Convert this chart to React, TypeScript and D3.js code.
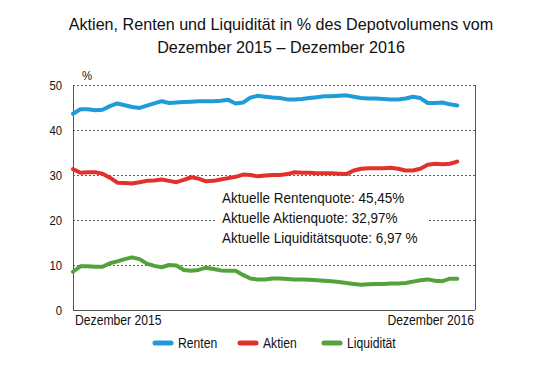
import React, { useRef, useEffect } from "react";
import * as d3 from "d3";

// weekly values, Dezember 2015 – Dezember 2016 (in % des Depotvolumens)
const renten = [
  43.6, 44.6, 44.6, 44.4, 44.5, 45.3, 45.9, 45.5, 45.1, 44.9, 45.4, 45.9, 46.4,
  46.0, 46.1, 46.2, 46.3, 46.4, 46.4, 46.4, 46.5, 46.7, 45.9, 46.1, 47.2, 47.6,
  47.4, 47.2, 47.1, 46.8, 46.8, 46.9, 47.1, 47.3, 47.5, 47.5, 47.6, 47.7, 47.4,
  47.1, 47.0, 47.0, 46.9, 46.8, 46.8, 47.0, 47.4, 47.1, 46.0, 46.0, 46.1, 45.7,
  45.45,
];
const aktien = [
  31.3, 30.5, 30.6, 30.6, 30.3, 29.4, 28.3, 28.2, 28.1, 28.4, 28.7, 28.8, 29.0,
  28.7, 28.4, 28.9, 29.5, 29.2, 28.6, 28.7, 29.0, 29.3, 29.6, 30.1, 30.0, 29.7,
  29.9, 30.0, 30.0, 30.2, 30.6, 30.5, 30.5, 30.4, 30.4, 30.4, 30.3, 30.2, 31.0,
  31.4, 31.5, 31.5, 31.5, 31.6, 31.4, 31.0, 31.0, 31.4, 32.3, 32.5, 32.4, 32.5,
  32.97,
];
const liquiditaet = [
  8.5, 9.7, 9.7, 9.6, 9.6, 10.4, 10.8, 11.3, 11.7, 11.3, 10.3, 9.8, 9.5, 10.0,
  9.9, 8.9, 8.7, 8.9, 9.4, 9.1, 8.8, 8.7, 8.7, 7.8, 7.0, 6.8, 6.8, 7.0, 7.0, 6.9,
  6.8, 6.8, 6.7, 6.6, 6.5, 6.4, 6.2, 6.0, 5.8, 5.6, 5.7, 5.8, 5.8, 5.9, 5.9, 6.0,
  6.3, 6.6, 6.8, 6.5, 6.4, 6.97, 6.97,
];

const seriesNames = ["Renten", "Aktien", "Liquidität"];
const seriesColors = ["#1f9bd7", "#e2312b", "#52a43a"];
const yTicks = [0, 10, 20, 30, 40, 50];
const startLabel = "Dezember 2015";
const endLabel = "Dezember 2016";
const titleLines = [
  "Aktien, Renten und Liquidität in % des Depotvolumens vom",
  "Dezember 2015 – Dezember 2016",
];
const quoteLines = [
  "Aktuelle Rentenquote: 45,45%",
  "Aktuelle Aktienquote: 32,97%",
  "Aktuelle Liquiditätsquote: 6,97 %",
];

const FONT = "'Liberation Sans', Arial, sans-serif";
const NARROW = 0.87;

const App = () => {
  const svgRef = useRef<SVGSVGElement>(null);

  useEffect(() => {
    const width = 555;
    const height = 384;
    const margin = { top: 85, right: 80, bottom: 74, left: 73 };

    const svg = d3
      .select(svgRef.current)
      .attr("width", width)
      .attr("height", height)
      .style("background", "#fff")
      .style("font-family", FONT);
    svg.selectAll("*").remove();

    // x in weeks, plot frame is a bit wider than the data
    const x = d3
      .scaleLinear()
      .domain([0, 54.4])
      .range([margin.left, width - margin.right]);
    const y = d3
      .scaleLinear()
      .domain([0, 50])
      .range([height - margin.bottom, margin.top]);

    const narrowText = (
      sel: d3.Selection<any, any, any, any>,
      px: number,
      py: number,
      txt: string,
      size: number,
      anchor = "start",
      sx = NARROW
    ) =>
      sel
        .append("text")
        .attr("transform", `translate(${px},${py}) scale(${sx},1)`)
        .attr("text-anchor", anchor)
        .style("font-size", size + "px")
        .attr("fill", "#111")
        .text(txt);

    // Title
    titleLines.forEach((t, i) =>
      narrowText(svg, 281, 30 + i * 23, t, 17, "middle", 0.95)
    );

    // Gridlines
    svg
      .append("g")
      .selectAll("line")
      .data(yTicks.filter((d) => d > 0))
      .join("line")
      .attr("x1", x(0))
      .attr("x2", x(54.4))
      .attr("y1", (d) => y(d) + 0.5)
      .attr("y2", (d) => y(d) + 0.5)
      .attr("stroke", "#333")
      .attr("stroke-width", 0.8)
      .attr("stroke-dasharray", "2,2");

    // Frame: left axis, bottom axis, right border
    const frame = svg.append("g").attr("stroke", "#555").attr("stroke-width", 1);
    frame
      .append("line")
      .attr("x1", x(0) + 0.5)
      .attr("x2", x(0) + 0.5)
      .attr("y1", y(50))
      .attr("y2", y(0));
    frame
      .append("line")
      .attr("x1", x(0))
      .attr("x2", x(54.4))
      .attr("y1", y(0) + 0.5)
      .attr("y2", y(0) + 0.5);
    frame
      .append("line")
      .attr("x1", x(54.4) + 0.5)
      .attr("x2", x(54.4) + 0.5)
      .attr("y1", y(50))
      .attr("y2", y(0));

    // Y tick labels
    yTicks.forEach((t) => narrowText(svg, 62, y(t) + 4.5, String(t), 13, "end"));
    narrowText(svg, 82, 80, "%", 13, "start");

    // X labels
    narrowText(svg, 75, 325, startLabel, 14, "start");
    narrowText(svg, 474, 325, endLabel, 14, "end");

    // Lines
    const line = d3
      .line<number>()
      .x((_, i) => x(i))
      .y((d) => y(d));

    [renten, aktien, liquiditaet].forEach((s, i) =>
      svg
        .append("path")
        .datum(s)
        .attr("fill", "none")
        .attr("stroke", seriesColors[i])
        .attr("stroke-width", 4)
        .attr("stroke-linejoin", "round")
        .attr("stroke-linecap", "round")
        .attr("d", line)
    );

    // Annotation box over the 20 gridline
    svg
      .append("rect")
      .attr("x", 215)
      .attr("y", 188)
      .attr("width", 212)
      .attr("height", 60)
      .attr("fill", "#fff");
    quoteLines.forEach((t, i) =>
      narrowText(svg, 222, 203 + i * 20, t, 15, "start", 0.9)
    );

    // Legend
    const legendX = [153, 238, 322];
    seriesNames.forEach((name, i) => {
      svg
        .append("line")
        .attr("x1", legendX[i] + 2)
        .attr("x2", legendX[i] + 18)
        .attr("y1", 343)
        .attr("y2", 343)
        .attr("stroke", seriesColors[i])
        .attr("stroke-width", 5)
        .attr("stroke-linecap", "round");
      narrowText(svg, legendX[i] + 25, 348, name, 14, "start");
    });
  }, []);

  return (
    <div style={{ position: "absolute", left: 0, top: 0 }}>
      <svg ref={svgRef}></svg>
    </div>
  );
};

export default App;
